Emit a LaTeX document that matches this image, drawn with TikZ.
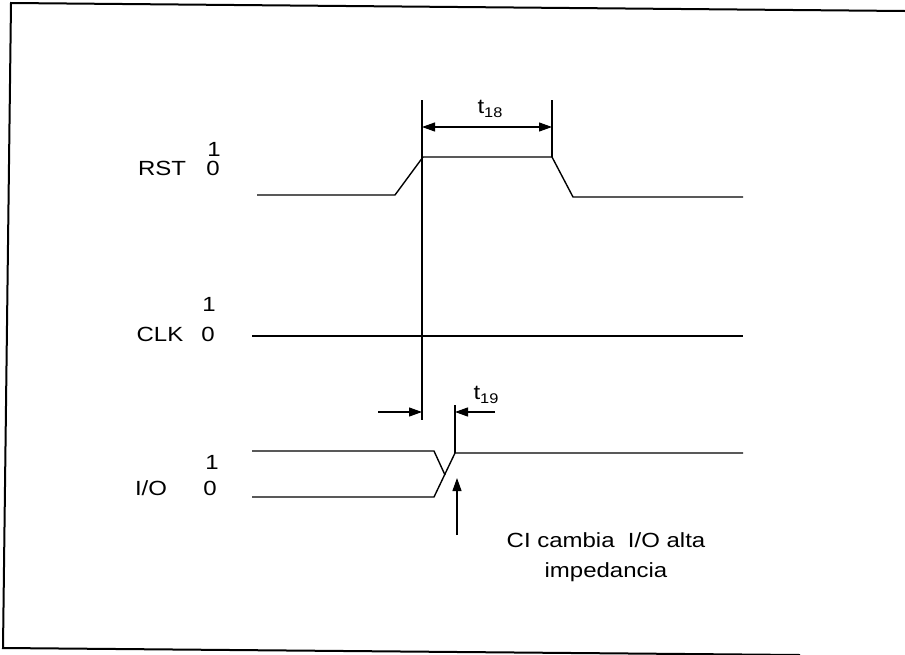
\documentclass[tikz,border=0pt]{standalone}
\usepackage{fontspec}
\setmainfont{Liberation Sans}[FakeStretch=1.17]
\usetikzlibrary{arrows.meta}

\begin{document}
\begin{tikzpicture}[
    x=1pt, y=-1pt,
    >={Triangle[length=13pt,width=9pt]},
    every node/.style={font=\fontsize{20.5}{30}\selectfont, inner sep=0pt},
    sig/.style={line width=1.4pt, line join=round},
    guide/.style={line width=1.2pt},
    dimarrow/.style={line width=1.1pt, <->},
    framebox/.style={line width=2pt}
]
    \useasboundingbox (0,0) rectangle (905,654);
    \clip (0,0) rectangle (905,654);
    \draw[framebox] (905,11) -- (11,3) -- (3,648) -- (800,655);

    \node (rstlab) at (162,168) {RST};
    \node (rstone) at (214,149) {1};
    \node (rstzero) at (213,168) {0};
    \node (clklab) at (160,334) {CLK};
    \node (clkone) at (209,304) {1};
    \node (clkzero) at (208,334) {0};
    \node (iolab) at (151,488) {I/O};
    \node (ioone) at (212,462) {1};
    \node (iozero) at (210,488) {0};

    \draw[sig] (257,195) -- (395,195) -- (423,157) -- (552,157) -- (573,197) -- (743,197);
    \draw[sig] (252,336) -- (743,336);
    \draw[sig] (252,451) -- (434,451) -- (445,475);
    \draw[sig] (252,497) -- (434,497) -- (455,453) -- (743,453);

    \coordinate (riseA) at (422,100);
    \coordinate (riseB) at (422,420);
    \coordinate (fallA) at (552,100);
    \coordinate (fallB) at (552,157);
    \coordinate (ioA) at (455,453);
    \coordinate (ioB) at (455,405);
    \draw[guide] (riseA) -- (riseB);
    \draw[guide] (fallA) -- (fallB);
    \draw[guide] (ioA) -- (ioB);

    \draw[dimarrow] (422,127) -- (552,127);
    \node (tA) at (490,109) {t\raisebox{-0.35ex}{\fontsize{14}{16}\selectfont 18}};

    \coordinate (leftend) at (378,412);
    \coordinate (rightend) at (495,412);
    \draw[guide, ->] (leftend) -- (422,412);
    \draw[guide, ->] (rightend) -- (455,412);
    \node (tB) at (486,395) {t\raisebox{-0.35ex}{\fontsize{14}{16}\selectfont 19}};

    \node[align=center] (note) at (606,557) {CI cambia\ \ I/O alta\\impedancia};
    \coordinate (notearrow) at (457,535);
    \draw[guide, ->] (notearrow) -- (457,478);
\end{tikzpicture}
\end{document}
